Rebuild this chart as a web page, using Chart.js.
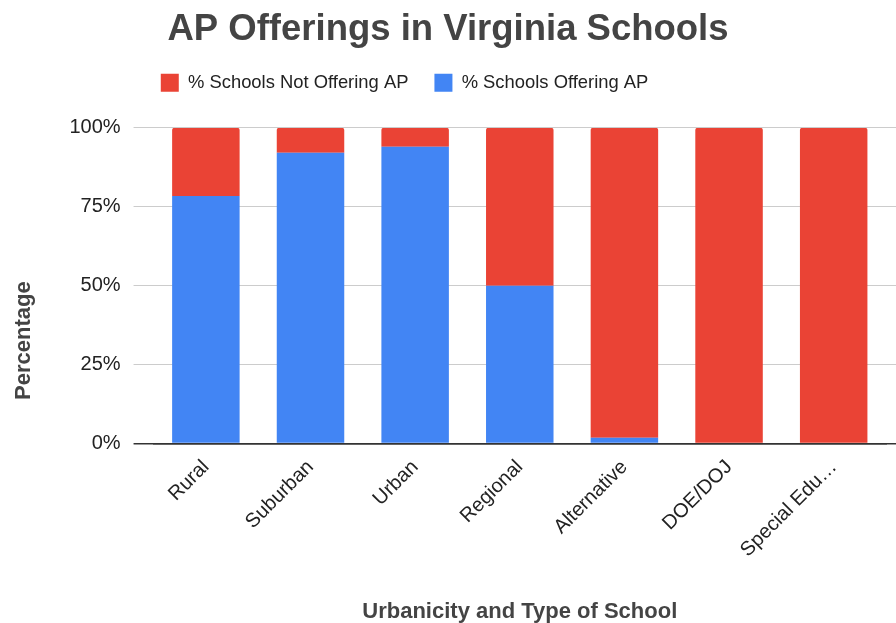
<!DOCTYPE html>
<html>
<head>
<meta charset="utf-8">
<script src="https://cdn.jsdelivr.net/npm/chart.js@4/dist/chart.umd.min.js"></script>
<style>
  html, body { margin: 0; padding: 0; background: #fff; overflow: hidden; }
  #wrap { width: 896px; height: 623px; }
</style>
</head>
<body>
<div id="wrap"><canvas id="apChart"></canvas></div>
<script>
const categories = ['Rural', 'Suburban', 'Urban', 'Regional', 'Alternative', 'DOE/DOJ', 'Special Edu\u2026'];
const offeringAP = [78.4, 92.1, 94.0, 50.0, 1.8, 0, 0];
const notOfferingAP = [21.6, 7.9, 6.0, 50.0, 98.2, 100, 100];
const yTicks = [0, 25, 50, 75, 100];

const red = '#ea4335';
const blue = '#4285f4';
const gridColor = '#cccccc';
const font = 'Arial, "Liberation Sans", sans-serif';

// legend sits left of centre in the original, and there is a gap under it
const legendGap = {
    id: 'legendGap',
    beforeInit(chart) {
        const fit = chart.legend.fit;
        chart.legend.fit = function () {
            fit.call(this);
            this.height += 26;
        };
    }
};

const ctx = document.getElementById('apChart').getContext('2d');
new Chart(ctx, {
    type: 'bar',
    data: {
        labels: categories,
        datasets: [{
            label: '% Schools Offering AP',
            data: offeringAP,
            backgroundColor: blue
        }, {
            label: '% Schools Not Offering AP',
            data: notOfferingAP,
            backgroundColor: red,
            borderRadius: { topLeft: 2, topRight: 2 },
            borderSkipped: 'bottom'
        }]
    },
    plugins: [legendGap],
    options: {
        devicePixelRatio: 1,
        responsive: true,
        maintainAspectRatio: false,
        animation: false,
        datasets: { bar: { categoryPercentage: 1, barPercentage: 0.645 } },
        layout: { padding: 0 },
        plugins: {
            title: {
                display: true,
                text: 'AP Offerings in Virginia Schools',
                color: '#444444',
                font: { family: font, size: 36.5, weight: 'bold', lineHeight: 1 },
                padding: { top: 12, bottom: -1 }
            },
            legend: {
                reverse: true,
                labels: {
                    color: '#222222',
                    font: { family: font, size: 18.4 },
                    boxWidth: 18,
                    boxHeight: 18,
                    padding: 26,
                    generateLabels: chart => {
                        const items = Chart.defaults.plugins.legend.labels.generateLabels(chart);
                        items.forEach(it => {
                            if (it.datasetIndex === 0) it.text += ' '.repeat(17);
                        });
                        return items;
                    }
                }
            },
            tooltip: { enabled: false }
        },
        scales: {
            x: {
                stacked: true,
                grid: { display: false },
                border: { color: '#333333', width: 1.5 },
                ticks: {
                    color: '#222222',
                    font: { family: font, size: 20 },
                    minRotation: 45,
                    maxRotation: 45,
                    padding: 4
                },
                title: {
                    display: true,
                    text: 'Urbanicity and Type of School',
                    color: '#444444',
                    font: { family: font, size: 22, weight: 'bold', lineHeight: 1 },
                    padding: { top: 35, bottom: 0 }
                }
            },
            y: {
                stacked: true,
                min: 0,
                max: 100,
                afterBuildTicks: scale => { scale.ticks = yTicks.map(v => ({ value: v })); },
                grid: {
                    color: c => c.tick && c.tick.value === 0 ? '#333333' : gridColor,
                    lineWidth: c => c.tick && c.tick.value === 0 ? 1.5 : 1,
                    tickLength: 20
                },
                border: { display: false },
                ticks: {
                    color: '#222222',
                    font: { family: font, size: 20 },
                    padding: 13,
                    callback: v => v + '%'
                },
                title: {
                    display: true,
                    text: 'Percentage' + ' '.repeat(18),
                    color: '#444444',
                    font: { family: font, size: 22, weight: 'bold' },
                    padding: { top: 11, bottom: 19 }
                }
            },
            yRight: {
                position: 'right',
                min: 0,
                max: 100,
                afterBuildTicks: scale => { scale.ticks = yTicks.map(v => ({ value: v })); },
                grid: {
                    drawOnChartArea: false,
                    color: c => c.tick && c.tick.value === 0 ? '#333333' : gridColor,
                    lineWidth: c => c.tick && c.tick.value === 0 ? 1.5 : 1,
                    tickLength: 10
                },
                border: { display: false },
                ticks: { display: false }
            }
        }
    }
});
</script>
</body>
</html>
